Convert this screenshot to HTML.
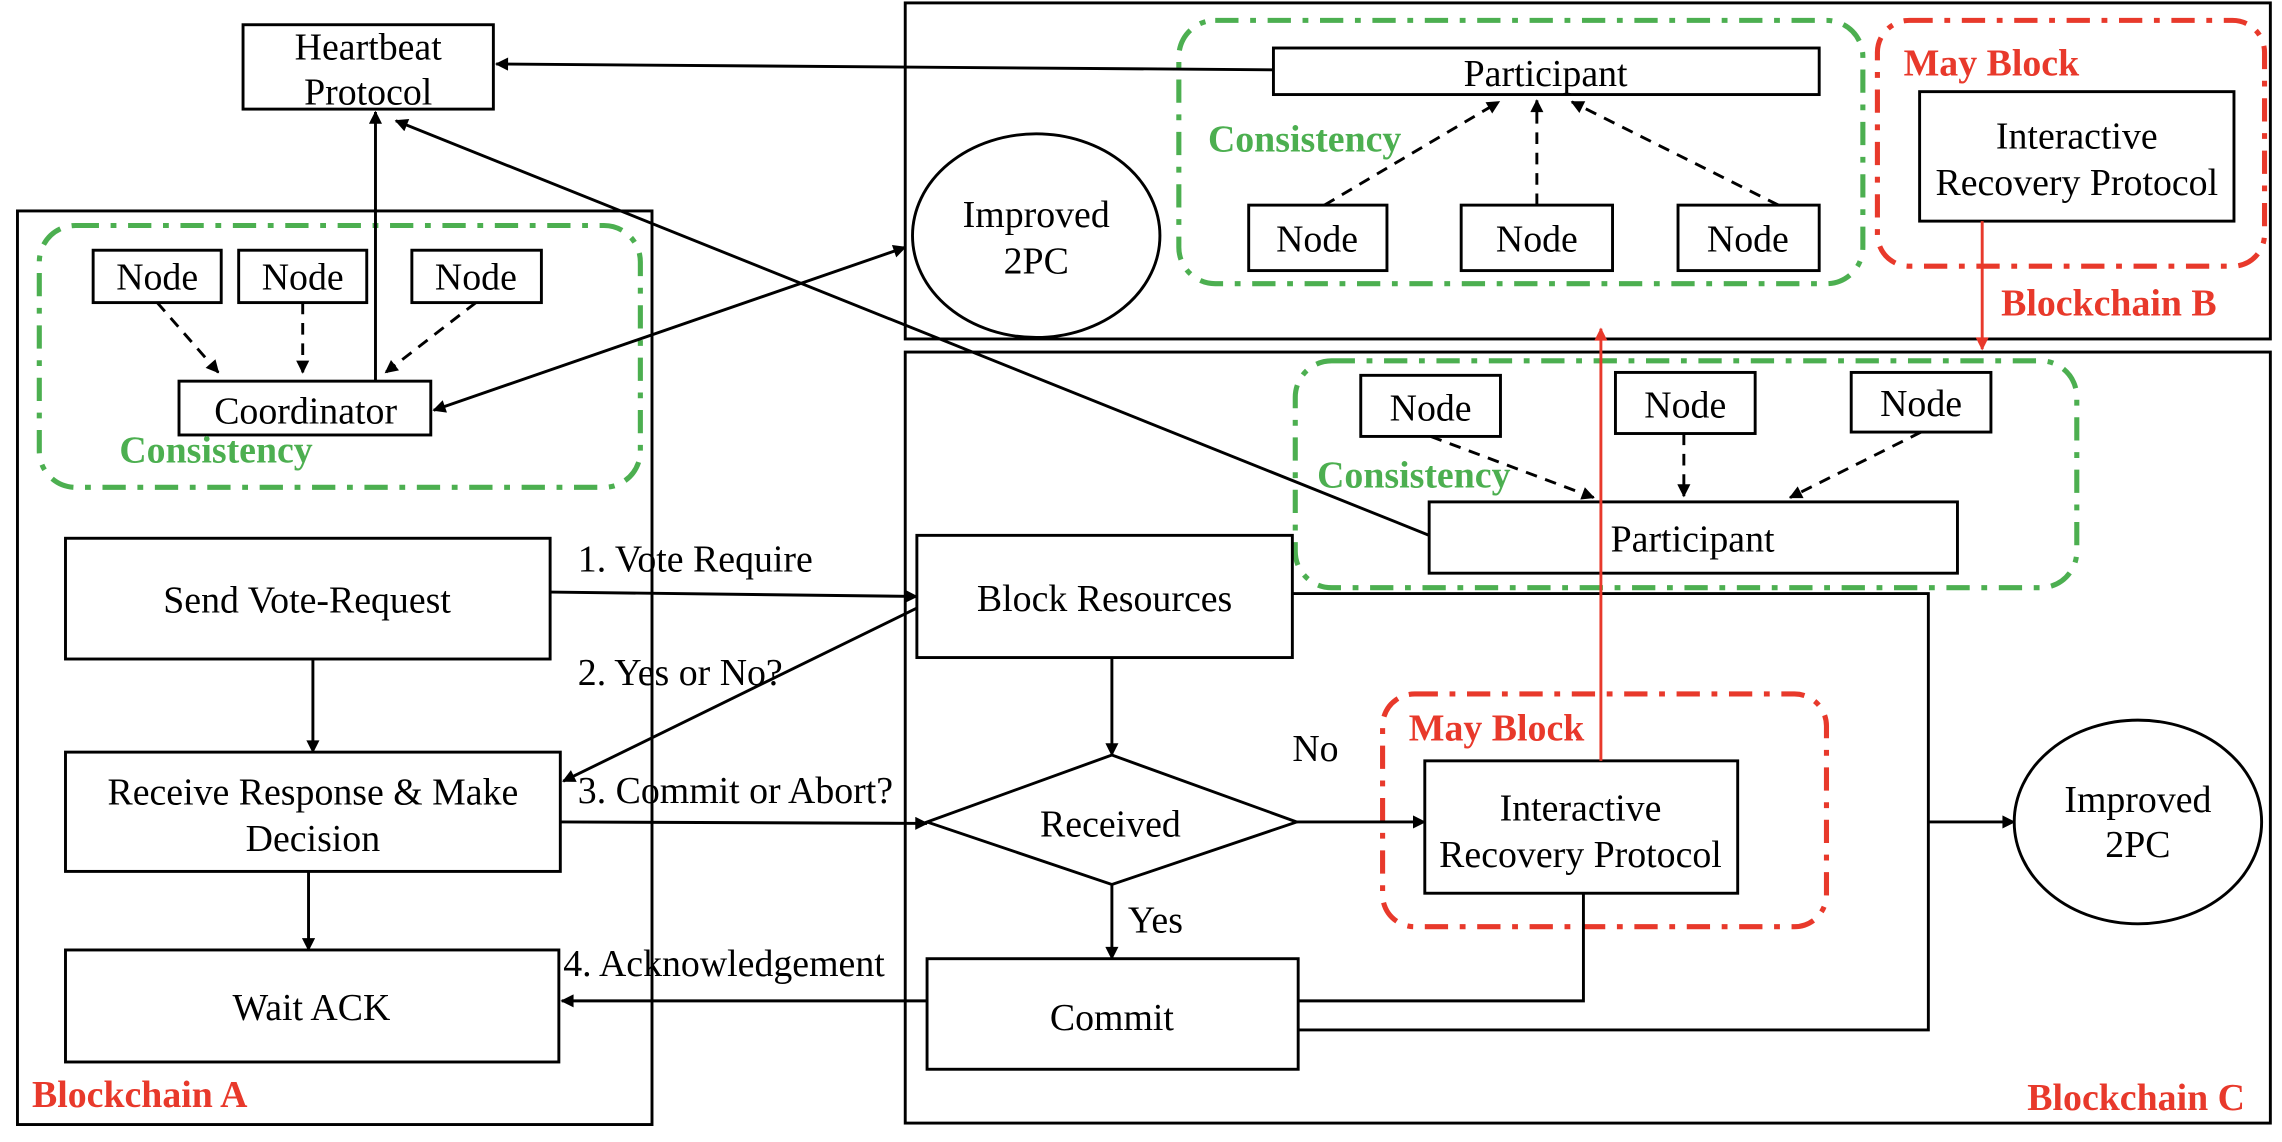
<!DOCTYPE html>
<html><head><meta charset="utf-8"><style>
html,body{margin:0;padding:0;background:#fff;}
svg{display:block;}
text{font-family:"Liberation Serif",serif;font-size:26px;fill:#000;}
.g{fill:#4caf50;font-weight:bold;}
.r{fill:#e8392b;font-weight:bold;}
</style></head><body>
<svg width="2282" height="1142" viewBox="0 0 1568 785" preserveAspectRatio="none" xmlns="http://www.w3.org/2000/svg">
<defs>
<marker id="a" viewBox="0 0 10 10" refX="9" refY="5" markerWidth="10" markerHeight="9" orient="auto-start-reverse" markerUnits="userSpaceOnUse"><path d="M0,0 L10,5 L0,10 z" fill="#000"/></marker>
<marker id="ar" viewBox="0 0 10 10" refX="9" refY="5" markerWidth="10" markerHeight="9" orient="auto" markerUnits="userSpaceOnUse"><path d="M0,0 L10,5 L0,10 z" fill="#e8392b"/></marker>
</defs>
<g fill="none" stroke="#000" stroke-width="2">
<rect x="12" y="145" width="436" height="628"/>
<rect x="622" y="2" width="938" height="231"/>
<rect x="622" y="242" width="938" height="530"/>
</g>
<g fill="none" stroke="#4caf50" stroke-width="3.5" stroke-dasharray="16,8,4,8">
<rect x="27" y="155" width="413" height="180" rx="25"/>
<rect x="810" y="14" width="470" height="181" rx="25"/>
<rect x="890" y="248" width="537" height="156" rx="25"/>
</g>
<g fill="none" stroke="#e8392b" stroke-width="3.5" stroke-dasharray="16,8,4,8">
<rect x="1290" y="14" width="266" height="169" rx="22"/>
<rect x="950" y="477" width="305" height="160" rx="22"/>
</g>
<g fill="#fff" stroke="#000" stroke-width="2">
<rect x="167" y="17" width="172" height="58"/>
<rect x="64" y="172" width="88" height="36"/>
<rect x="164" y="172" width="88" height="36"/>
<rect x="283" y="172" width="89" height="36"/>
<rect x="123" y="262" width="173" height="37"/>
<rect x="45" y="370" width="333" height="83"/>
<rect x="45" y="517" width="340" height="82"/>
<rect x="45" y="653" width="339" height="77"/>
<ellipse cx="712" cy="162" rx="85" ry="70"/>
<rect x="875" y="33" width="375" height="32"/>
<rect x="858" y="141" width="95" height="45"/>
<rect x="1004" y="141" width="104" height="45"/>
<rect x="1153" y="141" width="97" height="45"/>
<rect x="1319" y="63" width="216" height="89"/>
<rect x="935" y="258" width="96" height="42"/>
<rect x="1110" y="256" width="96" height="42"/>
<rect x="1272" y="256" width="96" height="41"/>
<rect x="982" y="345" width="363" height="49"/>
<rect x="630" y="368" width="258" height="84"/>
<polygon points="637,565 764,519 891,565 764,608"/>
<rect x="637" y="659" width="255" height="76"/>
<rect x="979" y="523" width="215" height="91"/>
<ellipse cx="1469" cy="565" rx="85" ry="70"/>
</g>
<g fill="none" stroke="#000" stroke-width="2">
<line x1="875" y1="48" x2="341" y2="44" marker-end="url(#a)"/>
<line x1="982" y1="368" x2="272" y2="83" marker-end="url(#a)"/>
<line x1="258" y1="262" x2="258" y2="77" marker-end="url(#a)"/>
<line x1="298" y1="282" x2="622" y2="170" marker-start="url(#a)" marker-end="url(#a)"/>
<line x1="378" y1="407" x2="630" y2="410" marker-end="url(#a)"/>
<line x1="630" y1="418" x2="387" y2="537" marker-end="url(#a)"/>
<line x1="385" y1="565" x2="637" y2="566" marker-end="url(#a)"/>
<line x1="637" y1="688" x2="386" y2="688" marker-end="url(#a)"/>
<line x1="215" y1="453" x2="215" y2="517" marker-end="url(#a)"/>
<line x1="212" y1="599" x2="212" y2="653" marker-end="url(#a)"/>
<line x1="764" y1="452" x2="764" y2="519" marker-end="url(#a)"/>
<line x1="764" y1="608" x2="764" y2="659" marker-end="url(#a)"/>
<line x1="891" y1="565" x2="979" y2="565" marker-end="url(#a)"/>
<polyline points="1088,614 1088,688 892,688"/>
<polyline points="888,408 1325,408 1325,708 892,708"/>
<line x1="1325" y1="565" x2="1384" y2="565" marker-end="url(#a)"/>
</g>
<g fill="none" stroke="#e8392b" stroke-width="2">
<line x1="1100" y1="523" x2="1100" y2="226" marker-end="url(#ar)"/>
<line x1="1362" y1="152" x2="1362" y2="240" marker-end="url(#ar)"/>
</g>
<g fill="none" stroke="#000" stroke-width="2" stroke-dasharray="8,6">
<line x1="108" y1="208" x2="150" y2="256" marker-end="url(#a)"/>
<line x1="208" y1="208" x2="208" y2="256" marker-end="url(#a)"/>
<line x1="327" y1="208" x2="265" y2="256" marker-end="url(#a)"/>
<line x1="910" y1="141" x2="1030" y2="70" marker-end="url(#a)"/>
<line x1="1056" y1="141" x2="1056" y2="69" marker-end="url(#a)"/>
<line x1="1222" y1="141" x2="1080" y2="70" marker-end="url(#a)"/>
<line x1="983" y1="300" x2="1095" y2="342" marker-end="url(#a)"/>
<line x1="1157" y1="298" x2="1157" y2="341" marker-end="url(#a)"/>
<line x1="1320" y1="297" x2="1230" y2="342" marker-end="url(#a)"/>
</g>
<g text-anchor="middle">
<text x="253" y="41">Heartbeat</text>
<text x="253" y="72">Protocol</text>
<text x="108" y="199">Node</text>
<text x="208" y="199">Node</text>
<text x="327" y="199">Node</text>
<text x="210" y="291">Coordinator</text>
<text x="211" y="421">Send Vote-Request</text>
<text x="215" y="553">Receive Response &amp; Make</text>
<text x="215" y="585">Decision</text>
<text x="214" y="701">Wait ACK</text>
<text x="712" y="156">Improved</text>
<text x="712" y="188">2PC</text>
<text x="1062" y="59">Participant</text>
<text x="905" y="173">Node</text>
<text x="1056" y="173">Node</text>
<text x="1201" y="173">Node</text>
<text x="1427" y="102">Interactive</text>
<text x="1427" y="134">Recovery Protocol</text>
<text x="983" y="289">Node</text>
<text x="1158" y="287">Node</text>
<text x="1320" y="286">Node</text>
<text x="1163" y="379">Participant</text>
<text x="759" y="420">Block Resources</text>
<text x="763" y="575">Received</text>
<text x="764" y="708">Commit</text>
<text x="1086" y="564">Interactive</text>
<text x="1086" y="596">Recovery Protocol</text>
<text x="1469" y="558">Improved</text>
<text x="1469" y="589">2PC</text>
</g>
<text x="397" y="393">1. Vote Require</text>
<text x="397" y="471">2. Yes or No?</text>
<text x="397" y="552">3. Commit or Abort?</text>
<text x="387" y="671">4. Acknowledgement</text>
<text x="888" y="523">No</text>
<text x="775" y="641">Yes</text>
<text class="g" x="82" y="318">Consistency</text>
<text class="g" x="830" y="104">Consistency</text>
<text class="g" x="905" y="335">Consistency</text>
<text class="r" x="1308" y="52">May Block</text>
<text class="r" x="968" y="509">May Block</text>
<text class="r" x="1375" y="217">Blockchain B</text>
<text class="r" x="22" y="761">Blockchain A</text>
<text class="r" x="1393" y="763">Blockchain C</text>
</svg>
</body></html>
